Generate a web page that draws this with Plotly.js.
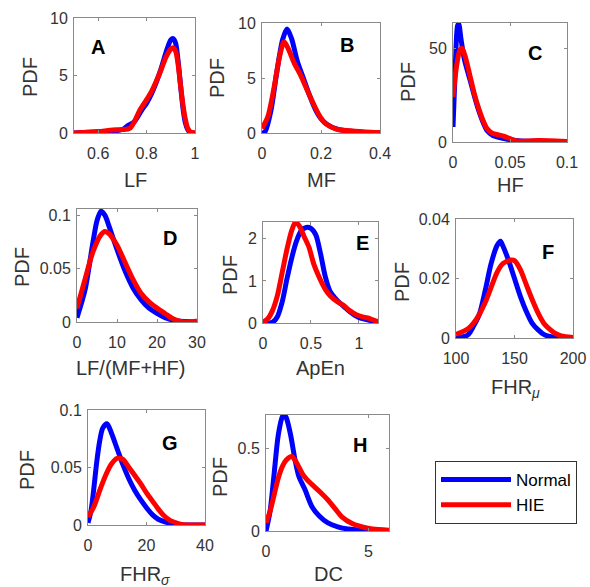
<!DOCTYPE html>
<html><head><meta charset="utf-8">
<script src="https://cdn.plot.ly/plotly-3.0.1.min.js"></script>
<style>html,body{margin:0;padding:0;background:#fff}#chart{width:590px;height:587px}</style>
</head><body><div id="chart"></div>
<script>
// ---- Data ----
const lfNormalX = [0.5,0.6,0.65,0.7,0.72,0.75,0.78,0.8,0.82,0.84,0.86,0.88,0.9,0.91,0.92,0.93,0.94,0.95,0.96,0.97,0.98,1.0];
const lfNormalY = [0,0.1,0.15,0.3,0.6,1.0,2.0,2.6,3.4,4.4,5.6,7.0,8.1,8.2,7.8,6.3,4.2,2.2,0.9,0.3,0.05,0];
const lfHIEX = [0.5,0.6,0.65,0.7,0.73,0.75,0.77,0.8,0.82,0.84,0.86,0.88,0.9,0.91,0.92,0.93,0.94,0.95,0.96,0.97,0.98,1.0];
const lfHIEY = [0,0.1,0.25,0.3,0.4,1.0,1.9,2.9,3.6,4.5,5.5,6.6,7.3,7.4,7.1,6.0,4.2,2.5,1.2,0.4,0.1,0];

const mfNormalX = [0,0.01,0.03,0.05,0.07,0.085,0.1,0.12,0.14,0.16,0.18,0.2,0.22,0.25,0.3,0.35,0.4];
const mfNormalY = [0,0.1,2.0,5.5,8.5,9.45,8.6,6.5,5.0,3.5,2.2,1.3,0.8,0.4,0.15,0.05,0];
const mfHIEX = [0,0.02,0.04,0.06,0.075,0.09,0.11,0.13,0.15,0.17,0.19,0.21,0.23,0.26,0.3,0.35,0.4];
const mfHIEY = [0.4,1.5,4.0,7.0,8.3,7.6,6.3,5.3,4.1,2.9,1.8,1.0,0.6,0.3,0.2,0.1,0.05];

const hfNormalX = [0,0.002,0.004,0.005,0.007,0.01,0.015,0.019,0.023,0.026,0.03,0.035,0.04,0.045,0.05,0.06,0.08,0.1];
const hfNormalY = [8,40,62,63,55,44,33,24,16,11,6,3.5,2.5,1.8,1.2,0.6,0.3,0.1];
const hfHIEX = [0,0.003,0.006,0.008,0.011,0.015,0.019,0.023,0.026,0.03,0.035,0.04,0.045,0.05,0.056,0.065,0.075,0.085,0.1];
const hfHIEY = [24,40,49,50,45,35,25,17,12,7,4.5,3.8,3,1.8,0.5,0.5,0.8,0.7,0.3];

const ratioNormalX = [0,2,4,5,6,7,8,10,12,14,16,18,20,22,25,30];
const ratioNormalY = [0.004,0.03,0.075,0.095,0.104,0.1,0.09,0.068,0.048,0.032,0.021,0.013,0.008,0.004,0.001,0];
const ratioHIEX = [0,2,4,6,7,8,10,12,14,16,18,20,22,24,26,28,30];
const ratioHIEY = [0.013,0.04,0.066,0.082,0.085,0.083,0.072,0.056,0.04,0.027,0.019,0.013,0.008,0.003,0.0005,0,0.001];

const apenNormalX = [0,0.1,0.15,0.2,0.25,0.3,0.35,0.4,0.45,0.5,0.55,0.6,0.65,0.7,0.75,0.8,0.85,0.9,1.0,1.1,1.2];
const apenNormalY = [0,0.02,0.15,0.5,1.05,1.55,1.95,2.2,2.27,2.25,2.1,1.65,1.1,0.75,0.6,0.48,0.38,0.28,0.13,0.07,0.02];
const apenHIEX = [0,0.05,0.1,0.15,0.2,0.25,0.3,0.34,0.38,0.43,0.48,0.53,0.59,0.65,0.7,0.78,0.84,0.9,0.98,1.05,1.12,1.2];
const apenHIEY = [0.02,0.1,0.3,0.65,1.2,1.75,2.2,2.4,2.3,2.05,1.8,1.4,1.07,0.8,0.65,0.5,0.42,0.3,0.19,0.14,0.1,0.03];

const fhrMuNormalX = [100,110,115,120,125,130,135,138,140,145,150,155,160,165,170,175,180,190,200];
const fhrMuNormalY = [0,0.001,0.004,0.008,0.016,0.025,0.031,0.0325,0.031,0.026,0.02,0.014,0.009,0.005,0.0028,0.0012,0.0005,0.0001,0];
const fhrMuHIEX = [100,110,115,120,125,130,135,140,147,150,155,160,165,170,175,180,185,190,200];
const fhrMuHIEY = [0.0012,0.003,0.005,0.008,0.012,0.017,0.022,0.025,0.0262,0.026,0.023,0.018,0.013,0.0085,0.005,0.003,0.0015,0.0007,0.0002];

const fhrSigmaNormalX = [0,1,2,3,4,5,6.5,8,10,12,14,16,18,20,22,24,26,28,30,35,40];
const fhrSigmaNormalY = [0.002,0.012,0.032,0.055,0.073,0.084,0.088,0.08,0.066,0.052,0.04,0.03,0.022,0.015,0.009,0.005,0.003,0.0015,0.0005,0,0];
const fhrSigmaHIEX = [0,2,4,6,8,10,11,12,14,16,18,20,22,24,26,28,30,32,35,40];
const fhrSigmaHIEY = [0.007,0.016,0.03,0.043,0.053,0.058,0.058,0.057,0.05,0.043,0.036,0.028,0.021,0.014,0.008,0.004,0.002,0.0005,0,0];

const dcNormalX = [0,0.2,0.4,0.6,0.8,0.9,1.0,1.2,1.4,1.6,1.9,2.25,2.6,3.0,3.5,4,5,6];
const dcNormalY = [0,0.12,0.35,0.58,0.69,0.7,0.68,0.58,0.44,0.33,0.25,0.145,0.09,0.05,0.025,0.012,0.003,0];
const dcHIEX = [0,0.2,0.4,0.6,0.8,1.0,1.25,1.5,1.8,2.0,2.25,2.6,3.0,3.4,3.7,4.2,4.7,5.2,6];
const dcHIEY = [0.05,0.12,0.22,0.32,0.39,0.43,0.45,0.41,0.34,0.31,0.28,0.24,0.19,0.13,0.085,0.045,0.025,0.012,0.005];

// ---- Tick labels ----
const ticksA = {x:[0.6,0.8,1], xt:['0.6','0.8','1'], y:[0,5,10], yt:['0','5','10']};
const ticksB = {x:[0,0.2,0.4], xt:['0','0.2','0.4'], y:[0,5,10], yt:['0','5','10']};
const ticksC = {x:[0,0.05,0.1], xt:['0','0.05','0.1'], y:[0,50], yt:['0','50']};
const ticksD = {x:[0,10,20,30], xt:['0','10','20','30'], y:[0,0.05,0.1], yt:['0','0.05','0.1']};
const ticksE = {x:[0,0.5,1], xt:['0','0.5','1'], y:[0,1,2], yt:['0','1','2']};
const ticksF = {x:[100,150,200], xt:['100','150','200'], y:[0,0.02,0.04], yt:['0','0.02','0.04']};
const ticksG = {x:[0,20,40], xt:['0','20','40'], y:[0,0.05,0.1], yt:['0','0.05','0.1']};
const ticksH = {x:[0,5], xt:['0','5'], y:[0,0.5], yt:['0','0.5']};

const seriesNames = ['Normal','HIE'];
const panelLetters = ['A','B','C','D','E','F','G','H'];
const xTitles = ['LF','MF','HF','LF/(MF+HF)','ApEn','FHR<sub><i>μ</i></sub>','FHR<sub><i>σ</i></sub>','DC'];

// ---- Layout geometry (pixel boxes) ----
const W = 590, H = 587;
const boxes = [
  {l:74,r:195,t:18,b:133, xr:[0.5,1], yr:[0,10], tk:ticksA, d:[lfNormalX,lfNormalY,lfHIEX,lfHIEY]},
  {l:262,r:380,t:23,b:133, xr:[0,0.4], yr:[0,10], tk:ticksB, d:[mfNormalX,mfNormalY,mfHIEX,mfHIEY]},
  {l:453,r:567,t:23,b:142, xr:[0,0.1], yr:[0,63.5], tk:ticksC, d:[hfNormalX,hfNormalY,hfHIEX,hfHIEY]},
  {l:77,r:197,t:209,b:322, xr:[0,30], yr:[0,0.106], tk:ticksD, d:[ratioNormalX,ratioNormalY,ratioHIEX,ratioHIEY]},
  {l:263,r:378,t:222,b:323, xr:[0,1.2], yr:[0,2.4], tk:ticksE, d:[apenNormalX,apenNormalY,apenHIEX,apenHIEY]},
  {l:456,r:573,t:219,b:338, xr:[100,200], yr:[0,0.04], tk:ticksF, d:[fhrMuNormalX,fhrMuNormalY,fhrMuHIEX,fhrMuHIEY]},
  {l:88,r:205,t:410,b:525, xr:[0,40], yr:[0,0.1], tk:ticksG, d:[fhrSigmaNormalX,fhrSigmaNormalY,fhrSigmaHIEX,fhrSigmaHIEY]},
  {l:266,r:389,t:415,b:531, xr:[0,6], yr:[0,0.7], tk:ticksH, d:[dcNormalX,dcNormalY,dcHIEX,dcHIEY]}
];
// label positions (px centers): PDF label, x title, panel letter
const labelPos = [
  {py:[30,77], xt:[135,180], lt:[98,47]},
  {py:[217,78], xt:[322,180], lt:[347,45]},
  {py:[408,82], xt:[510,185], lt:[535,53]},
  {py:[22,267], xt:[130,368], lt:[170,238]},
  {py:[230,275], xt:[320,368], lt:[362,243]},
  {py:[402,282], xt:[515,388], lt:[548,252]},
  {py:[27,470], xt:[145,575], lt:[170,443]},
  {py:[220,477], xt:[328,574], lt:[360,445]}
];

const FONT = 'Liberation Sans, Arial, sans-serif';
const BLUE = '#0000ff', RED = '#ff0000';
const traces = [];
const layout = {
  width: W, height: H,
  margin: {l:0,r:0,t:0,b:0},
  paper_bgcolor: '#fff', plot_bgcolor: '#fff',
  font: {family: FONT, size: 16, color: '#262626'},
  showlegend: true,
  legend: {x: 435/W, y: 1-461/H, xanchor:'left', yanchor:'top',
    bgcolor:'#fff', bordercolor:'#333', borderwidth:1,
    font:{family:FONT, size:17, color:'#000'}, itemwidth: 70,
    tracegroupgap: 0},
  annotations: []
};

boxes.forEach((b, i) => {
  const n = i + 1;
  const xa = n === 1 ? 'xaxis' : 'xaxis' + n;
  const ya = n === 1 ? 'yaxis' : 'yaxis' + n;
  const xr = n === 1 ? 'x' : 'x' + n;
  const yr = n === 1 ? 'y' : 'y' + n;
  const common = {
    showgrid:false, zeroline:false, showline:true, linecolor:'#8a8a8a', linewidth:1,
    mirror:'ticks', ticks:'inside', ticklen:3, tickcolor:'#8a8a8a',
    tickfont:{family:FONT, size:16, color:'#333'}, fixedrange:true
  };
  layout[xa] = Object.assign({}, common, {
    domain:[b.l/W, b.r/W], range:b.xr, anchor:yr, ticklabelstandoff:6,
    tickmode:'array', tickvals:b.tk.x, ticktext:b.tk.xt
  });
  layout[ya] = Object.assign({}, common, {
    domain:[1-b.b/H, 1-b.t/H], range:b.yr, anchor:xr, ticklabelstandoff:2,
    tickmode:'array', tickvals:b.tk.y, ticktext:b.tk.yt
  });
  [[b.d[0],b.d[1],BLUE,seriesNames[0]],[b.d[2],b.d[3],RED,seriesNames[1]]].forEach(s => {
    traces.push({x:s[0], y:s[1], xaxis:xr, yaxis:yr, type:'scatter', mode:'lines',
      name:s[3], showlegend: i === 0, legendgroup:s[3],
      line:{color:s[2], width:5, shape:'spline', smoothing:0.8}, cliponaxis:true, hoverinfo:'skip'});
  });
  const p = labelPos[i];
  const ann = {xref:'paper', yref:'paper', xanchor:'center', yanchor:'middle', showarrow:false};
  layout.annotations.push(Object.assign({}, ann, {x:p.py[0]/W, y:1-p.py[1]/H,
    text:'PDF', textangle:-90, font:{family:FONT,size:20,color:'#333'}}));
  layout.annotations.push(Object.assign({}, ann, {x:p.xt[0]/W, y:1-p.xt[1]/H,
    text:xTitles[i], font:{family:FONT,size:20,color:'#333'}}));
  layout.annotations.push(Object.assign({}, ann, {x:p.lt[0]/W, y:1-p.lt[1]/H,
    text:'<b>'+panelLetters[i]+'</b>', font:{family:FONT,size:20,color:'#000'}}));
});

Plotly.newPlot('chart', traces, layout, {staticPlot:true});
</script></body></html>
